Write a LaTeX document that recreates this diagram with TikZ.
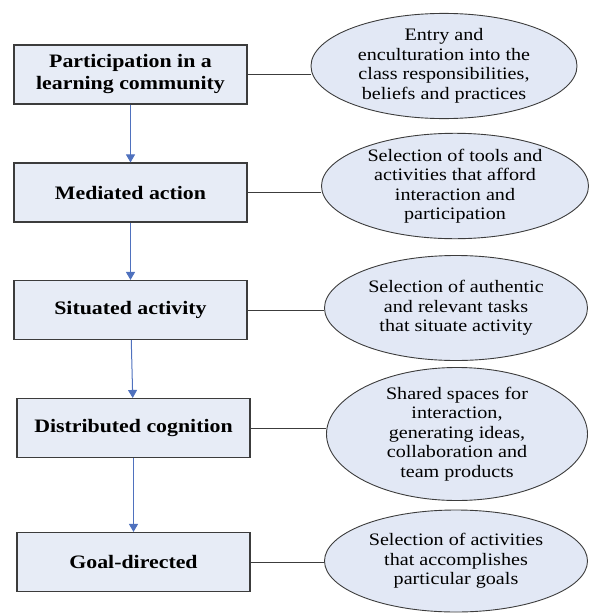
\documentclass[tikz,border=0pt]{standalone}
\usepackage{fontspec}
\setmainfont{Liberation Serif}[FakeStretch=1.15]
\usepackage{xcolor}
\usepackage{tikz}
\usetikzlibrary{shapes.geometric,arrows.meta}
\definecolor{box-fill}{RGB}{231,236,246}
\definecolor{oval-fill}{RGB}{226,232,245}
\definecolor{edge-grey}{RGB}{60,60,60}
\definecolor{flow-blue}{RGB}{79,113,190}

\begin{document}
\begin{tikzpicture}[x=1pt, y=-1pt,
  stage/.style={draw=edge-grey, fill=box-fill, line width=1.1pt, minimum width=233pt, minimum height=59pt,
    align=center, inner sep=0pt, font=\fontsize{19}{22}\selectfont\bfseries},
  oval/.style={ellipse, draw=edge-grey, fill=oval-fill, line width=0.9pt, inner sep=0pt, align=center,
    font=\fontsize{17.5}{19.5}\selectfont},
  flow/.style={draw=flow-blue, line width=1pt, -{Triangle[width=9pt,length=8pt]}},
  link/.style={draw=edge-grey, line width=1pt}]
  \useasboundingbox (0,0) rectangle (589,613);

  % Left column - stages
  \node[stage] (part) at (130.5,74.5) {Participation in a\\learning community};
  \node[stage] (med) at (130.5,192.5) {Mediated action};
  \node[stage] (sit) at (130.5,310) {Situated activity};
  \node[stage] (dist) at (133.5,428) {Distributed cognition};
  \node[stage] (goal) at (133.5,562) {Goal-directed};

  % Right column - ovals
  \node[oval, minimum width=266pt, minimum height=105pt] (entry) at (444,66)
    {Entry and\\enculturation into the\\class responsibilities,\\beliefs and practices};
  \node[oval, minimum width=267pt, minimum height=105pt] (tools) at (455,186)
    {Selection of tools and\\activities that afford\\interaction and\\participation};
  \node[oval, minimum width=263pt, minimum height=105pt] (tasks) at (456,308)
    {Selection of authentic\\and relevant tasks\\that situate activity};
  \node[oval, minimum width=261pt, minimum height=102pt] (spaces) at (457,434)
    {Shared spaces for\\interaction,\\generating ideas,\\collaboration and\\team products};
  \node[oval, minimum width=263pt, minimum height=102pt] (goals) at (456,561)
    {Selection of activities\\that accomplishes\\particular goals};

  % Flow arrows
  \draw[flow] (part) -- (med);
  \draw[flow] (med) -- (sit);
  \draw[flow] (sit) -- (dist);
  \draw[flow] (dist) -- (goal);

  % Links to ovals
  \draw[link] (part.east) -- (part.east -| entry.west);
  \draw[link] (med.east) -- (med.east -| tools.west);
  \draw[link] (sit.east) -- (sit.east -| tasks.west);
  \draw[link] (dist.east) -- (dist.east -| spaces.west);
  \draw[link] (goal.east) -- (goal.east -| goals.west);
\end{tikzpicture}
\end{document}
